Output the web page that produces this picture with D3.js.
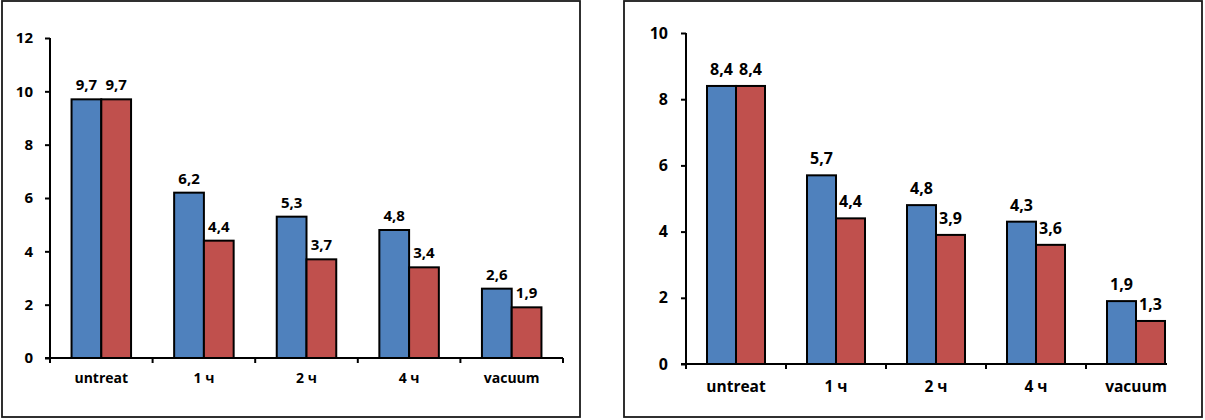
<!DOCTYPE html>
<html><head><meta charset="utf-8">
<script src="https://cdn.jsdelivr.net/npm/d3@7"></script>
<style>
html,body{margin:0;padding:0;background:#fff;}
svg{display:block;}
text{font-family:"Open Sans","Liberation Sans",Arial,sans-serif;font-weight:bold;fill:#000;}
</style></head><body>
<svg id="c" width="1205" height="420"></svg>
<script>
// ---- data ----
const categories = ["untreat", "1 ч", "2 ч", "4 ч", "vacuum"];
const seriesNames = ["blue", "red"];
const leftBlue = [9.7, 6.2, 5.3, 4.8, 2.6];
const leftRed  = [9.7, 4.4, 3.7, 3.4, 1.9];
const rightBlue = [8.4, 5.7, 4.8, 4.3, 1.9];
const rightRed  = [8.4, 4.4, 3.9, 3.6, 1.3];
const leftTicks = [0, 2, 4, 6, 8, 10, 12];
const rightTicks = [0, 2, 4, 6, 8, 10];
const colors = ["#4F81BD", "#C0504D"];

const svg = d3.select("#c");
const fmt = v => d3.format(".1f")(v).replace(".", ",");
const FONT = '"Open Sans","Liberation Sans",Arial,sans-serif';

function drawChart(cfg) {
  const g = svg.append("g");
  // frame
  g.append("rect").attr("x", cfg.frame[0]).attr("y", cfg.frame[1])
    .attr("width", cfg.frame[2]).attr("height", cfg.frame[3])
    .attr("fill", "#fff").attr("stroke", "#1a1a1a").attr("stroke-width", 1.8);

  const y = d3.scaleLinear().domain([0, cfg.ticks[cfg.ticks.length - 1]]).range([cfg.y0, cfg.yTop]);
  const x = d3.scaleBand().domain(categories).range([cfg.x0, cfg.x1]).paddingInner(0.42).paddingOuter(0.21);
  const xs = d3.scaleBand().domain(seriesNames).range([0, x.bandwidth()]);

  // y axis
  const ya = g.append("g").attr("transform", `translate(${cfg.x0},0)`)
    .call(d3.axisLeft(y).tickValues(cfg.ticks).tickSize(5).tickPadding(cfg.tickPad).tickFormat(d3.format("d")));
  ya.select(".domain").attr("stroke", "#000").attr("stroke-width", 2).attr("d", `M0,${cfg.y0}V${cfg.yTop}`);
  ya.selectAll(".tick line").attr("stroke", "#000").attr("stroke-width", 2);
  ya.selectAll(".tick text").style("font-size", cfg.tickFont + "px").style("font-family", FONT)
    .style("font-weight", "bold").attr("fill", "#000");

  // bars
  const data = categories.map((c, i) => ({ c, vals: [cfg.blue[i], cfg.red[i]] }));
  const grp = g.selectAll(".cat").data(data).join("g").attr("transform", d => `translate(${x(d.c)},0)`);
  grp.selectAll("rect").data(d => d.vals.map((v, j) => ({ v, s: seriesNames[j], j })))
    .join("rect")
    .attr("x", d => xs(d.s)).attr("width", xs.bandwidth())
    .attr("y", d => y(d.v)).attr("height", d => cfg.y0 - y(d.v))
    .attr("fill", d => colors[d.j]).attr("stroke", "#000").attr("stroke-width", 2);
  grp.selectAll("text.val").data(d => d.vals.map((v, j) => ({ v, s: seriesNames[j] })))
    .join("text").attr("class", "val")
    .attr("x", d => xs(d.s) + xs.bandwidth() / 2).attr("y", d => y(d.v) - cfg.valGap)
    .attr("text-anchor", "middle").style("font-size", cfg.valFont + "px")
    .text(d => fmt(d.v));

  // x axis
  const boundaries = d3.range(categories.length + 1).map(i => cfg.x0 + i * x.step());
  const xa = g.append("g");
  xa.append("line").attr("x1", cfg.x0 - 5).attr("x2", cfg.axisEnd).attr("y1", cfg.y0).attr("y2", cfg.y0)
    .attr("stroke", "#000").attr("stroke-width", 2);
  xa.selectAll("line.tk").data(boundaries.filter(b => b <= cfg.axisEnd + 1)).join("line").attr("class", "tk")
    .attr("x1", d => d).attr("x2", d => d).attr("y1", cfg.y0).attr("y2", cfg.y0 + 5)
    .attr("stroke", "#000").attr("stroke-width", 2);
  xa.selectAll("text").data(categories).join("text")
    .attr("x", d => x(d) + x.bandwidth() / 2).attr("y", cfg.y0 + cfg.labGap)
    .attr("text-anchor", "middle").attr("dominant-baseline", "middle")
    .style("font-size", cfg.catFont + "px").text(d => d);
}

drawChart({
  frame: [2, 1, 578, 416], x0: 50, x1: 563, axisEnd: 563, y0: 358, yTop: 38,
  ticks: leftTicks, blue: leftBlue, red: leftRed,
  tickPad: 12, tickFont: 15, valFont: 15, valGap: 9, catFont: 14, labGap: 21
});
drawChart({
  frame: [624, 1, 578, 416], x0: 686, x1: 1186, axisEnd: 1167, y0: 364, yTop: 33,
  ticks: rightTicks, blue: rightBlue, red: rightRed,
  tickPad: 13, tickFont: 16, valFont: 16, valGap: 11, catFont: 15.5, labGap: 24
});
</script>
</body></html>
